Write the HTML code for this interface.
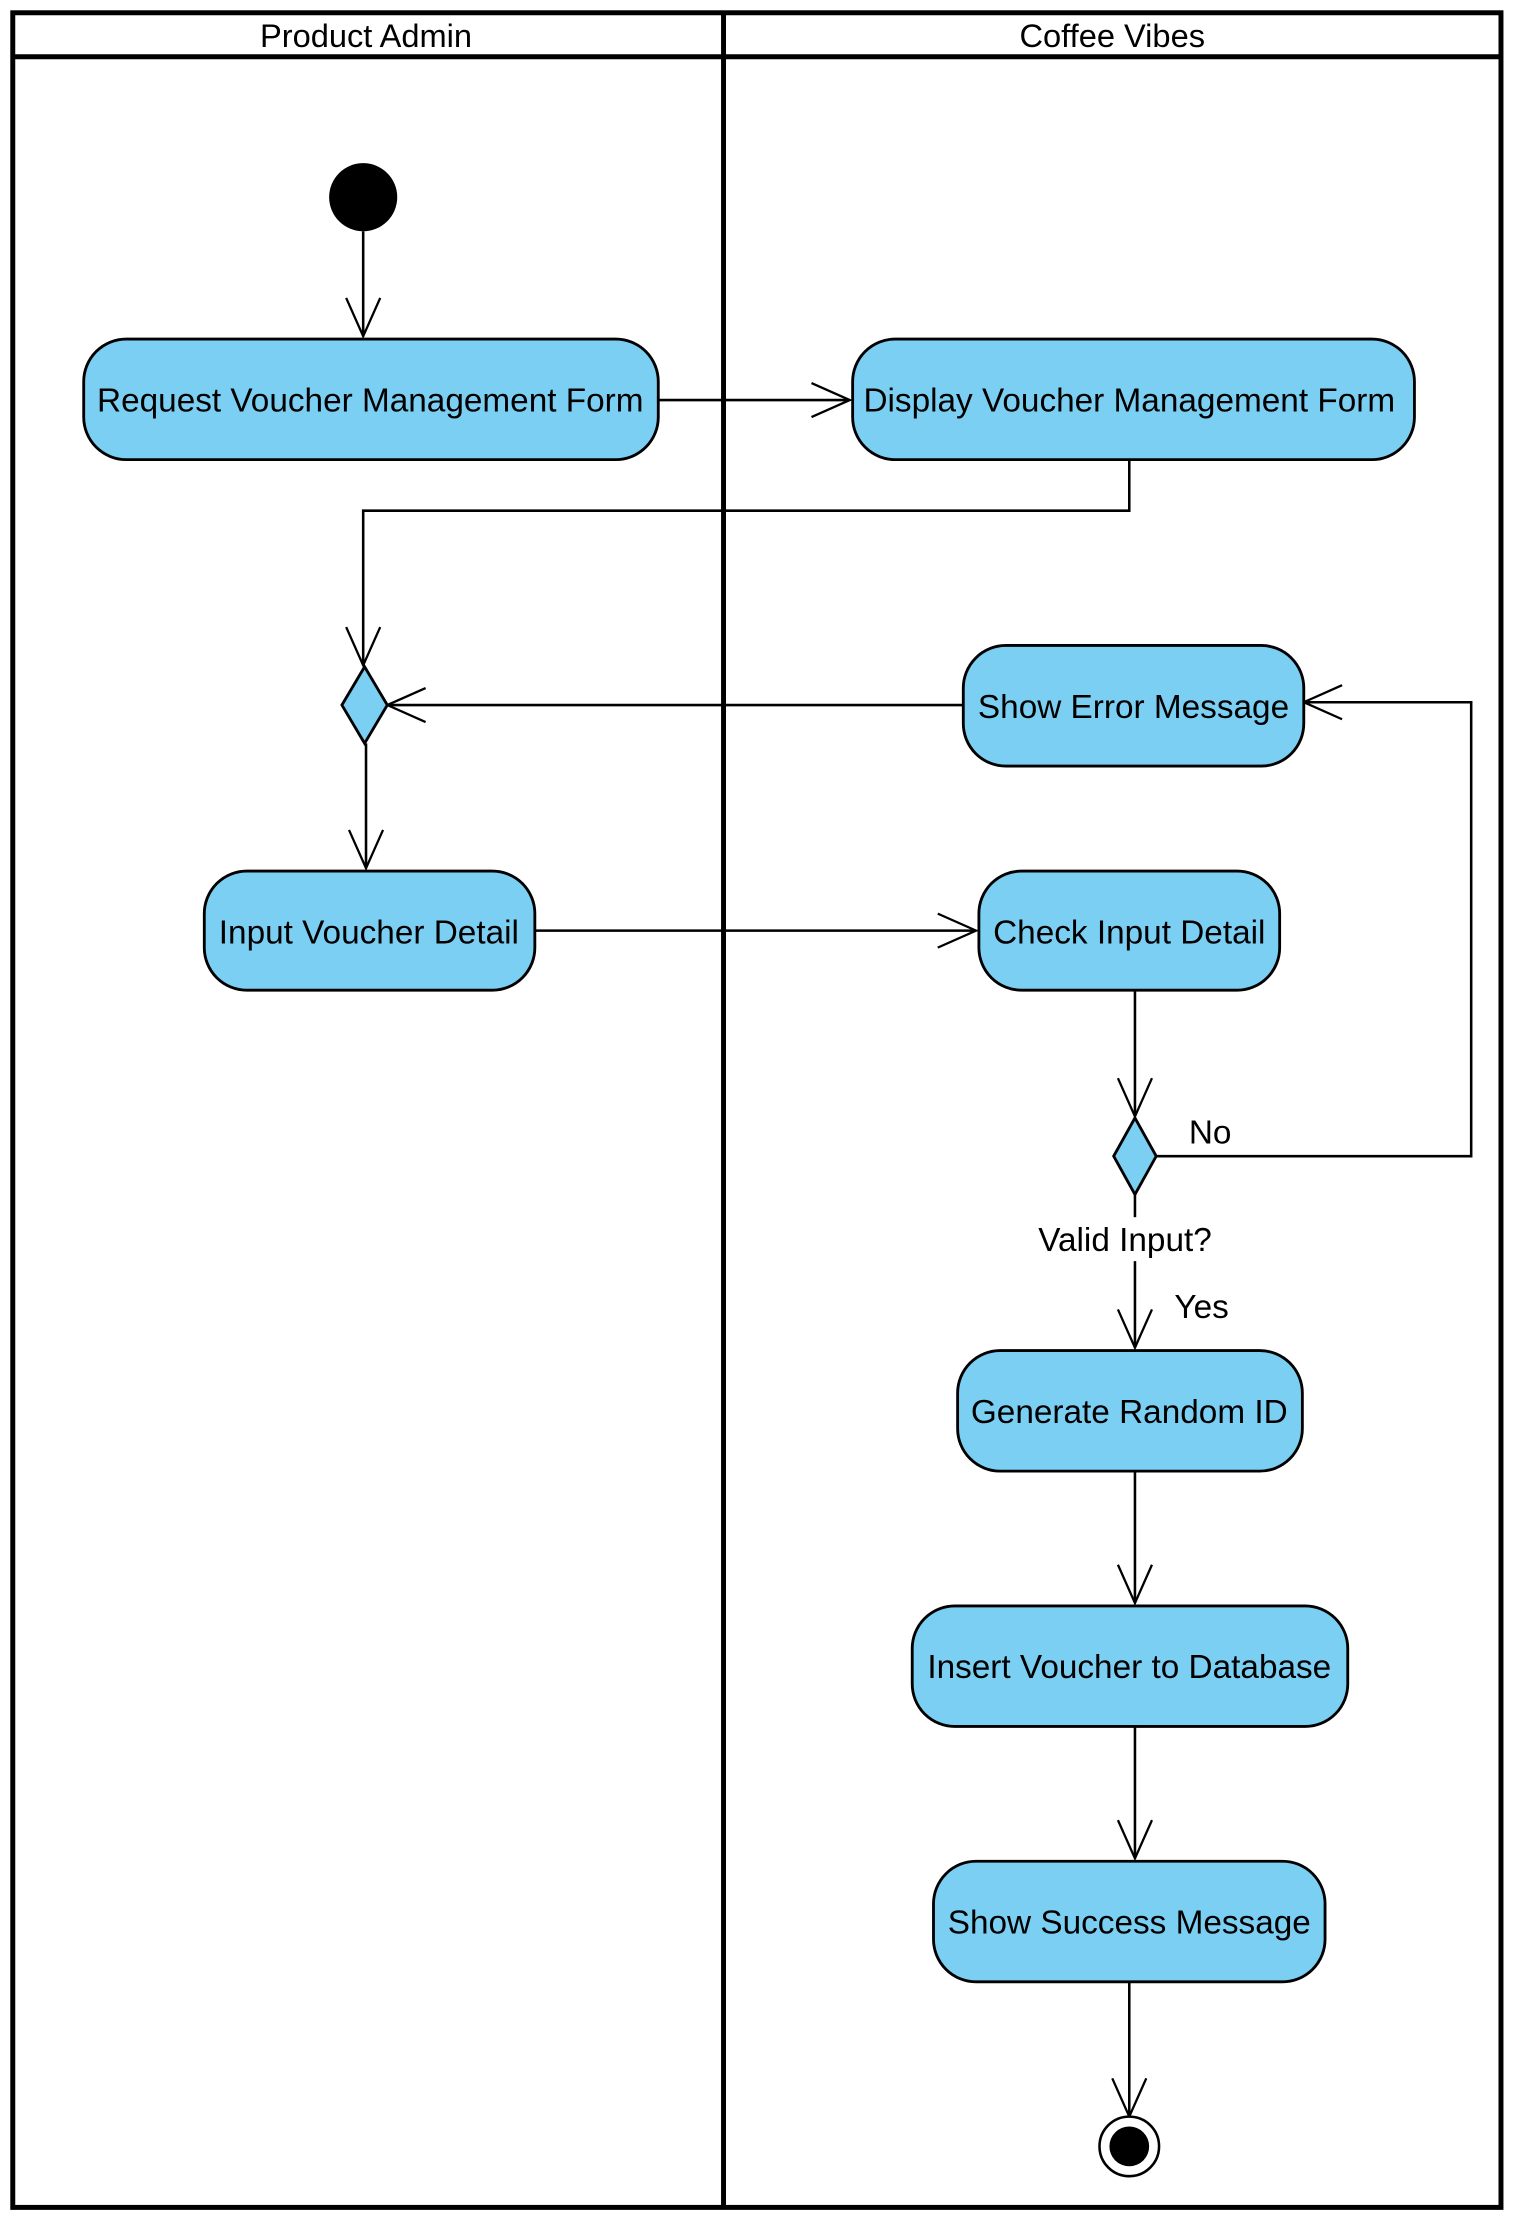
<!DOCTYPE html>
<html><head><meta charset="utf-8"><style>
html,body{margin:0;padding:0;background:#fff;}
svg{display:block;}
text{font-family:"Liberation Sans",Arial,sans-serif;fill:#000;}
</style></head><body>
<svg width="1518" height="2223" viewBox="0 0 1070 1567" preserveAspectRatio="none" xmlns="http://www.w3.org/2000/svg">
<defs>
<marker id="a" markerWidth="30" markerHeight="26" refX="28" refY="13" orient="auto" markerUnits="userSpaceOnUse">
<path d="M1,1 L28,13 L1,25" fill="none" stroke="#000" stroke-width="1.6"/>
</marker>
</defs>
<rect x="9" y="9" width="1049" height="1547" fill="#fff" stroke="#000" stroke-width="3.5"/>
<line x1="9" y1="40" x2="1058" y2="40" stroke="#000" stroke-width="3.5"/>
<line x1="510" y1="9" x2="510" y2="1556" stroke="#000" stroke-width="3.5"/>
<text x="258" y="33" font-size="23" text-anchor="middle">Product Admin</text>
<text x="784" y="33" font-size="23" text-anchor="middle">Coffee Vibes</text>

<g stroke="#000" stroke-width="1.8" fill="none">
<line x1="256" y1="163" x2="256" y2="237" marker-end="url(#a)"/>
<line x1="464" y1="282" x2="599" y2="282" marker-end="url(#a)"/>
<polyline points="796,324 796,360 256,360 256,469" marker-end="url(#a)"/>
<line x1="679" y1="497" x2="273" y2="497" marker-end="url(#a)"/>
<line x1="258" y1="524" x2="258" y2="612" marker-end="url(#a)"/>
<line x1="377" y1="656" x2="688" y2="656" marker-end="url(#a)"/>
<line x1="800" y1="698" x2="800" y2="787" marker-end="url(#a)"/>
<polyline points="815,815 1037,815 1037,495 919,495" marker-end="url(#a)"/>
<line x1="800" y1="842" x2="800" y2="858"/>
<line x1="800" y1="889" x2="800" y2="950" marker-end="url(#a)"/>
<line x1="800" y1="1037" x2="800" y2="1130" marker-end="url(#a)"/>
<line x1="800" y1="1217" x2="800" y2="1310" marker-end="url(#a)"/>
<line x1="796" y1="1397" x2="796" y2="1492" marker-end="url(#a)"/>
</g>

<circle cx="256" cy="139" r="24" fill="#000"/>
<circle cx="796" cy="1513" r="21" fill="#fff" stroke="#000" stroke-width="1.8"/>
<circle cx="796" cy="1513" r="14" fill="#000"/>

<g fill="#7ACFF3" stroke="#000" stroke-width="2">
<rect x="59" y="239" width="405" height="85" rx="30"/>
<rect x="601" y="239" width="396" height="85" rx="30"/>
<rect x="679" y="455" width="240" height="85" rx="30"/>
<rect x="144" y="614" width="233" height="84" rx="30"/>
<rect x="690" y="614" width="212" height="84" rx="30"/>
<rect x="675" y="952" width="243" height="85" rx="30"/>
<rect x="643" y="1132" width="307" height="85" rx="30"/>
<rect x="658" y="1312" width="276" height="85" rx="30"/>
<polygon points="257,470 273,497 257,524 241,497"/>
<polygon points="800,788 815,815 800,842 785,815"/>
</g>

<g font-size="23.5" text-anchor="middle">
<text x="261" y="290">Request Voucher Management Form</text>
<text x="796" y="290">Display Voucher Management Form</text>
<text x="799" y="506">Show Error Message</text>
<text x="260" y="665">Input Voucher Detail</text>
<text x="796" y="665">Check Input Detail</text>
<text x="796" y="1003">Generate Random ID</text>
<text x="796" y="1183">Insert Voucher to Database</text>
<text x="796" y="1363">Show Success Message</text>
<text x="793" y="882">Valid Input?</text>
<text x="853" y="806">No</text>
<text x="847" y="929">Yes</text>
</g>
</svg>
</body></html>
